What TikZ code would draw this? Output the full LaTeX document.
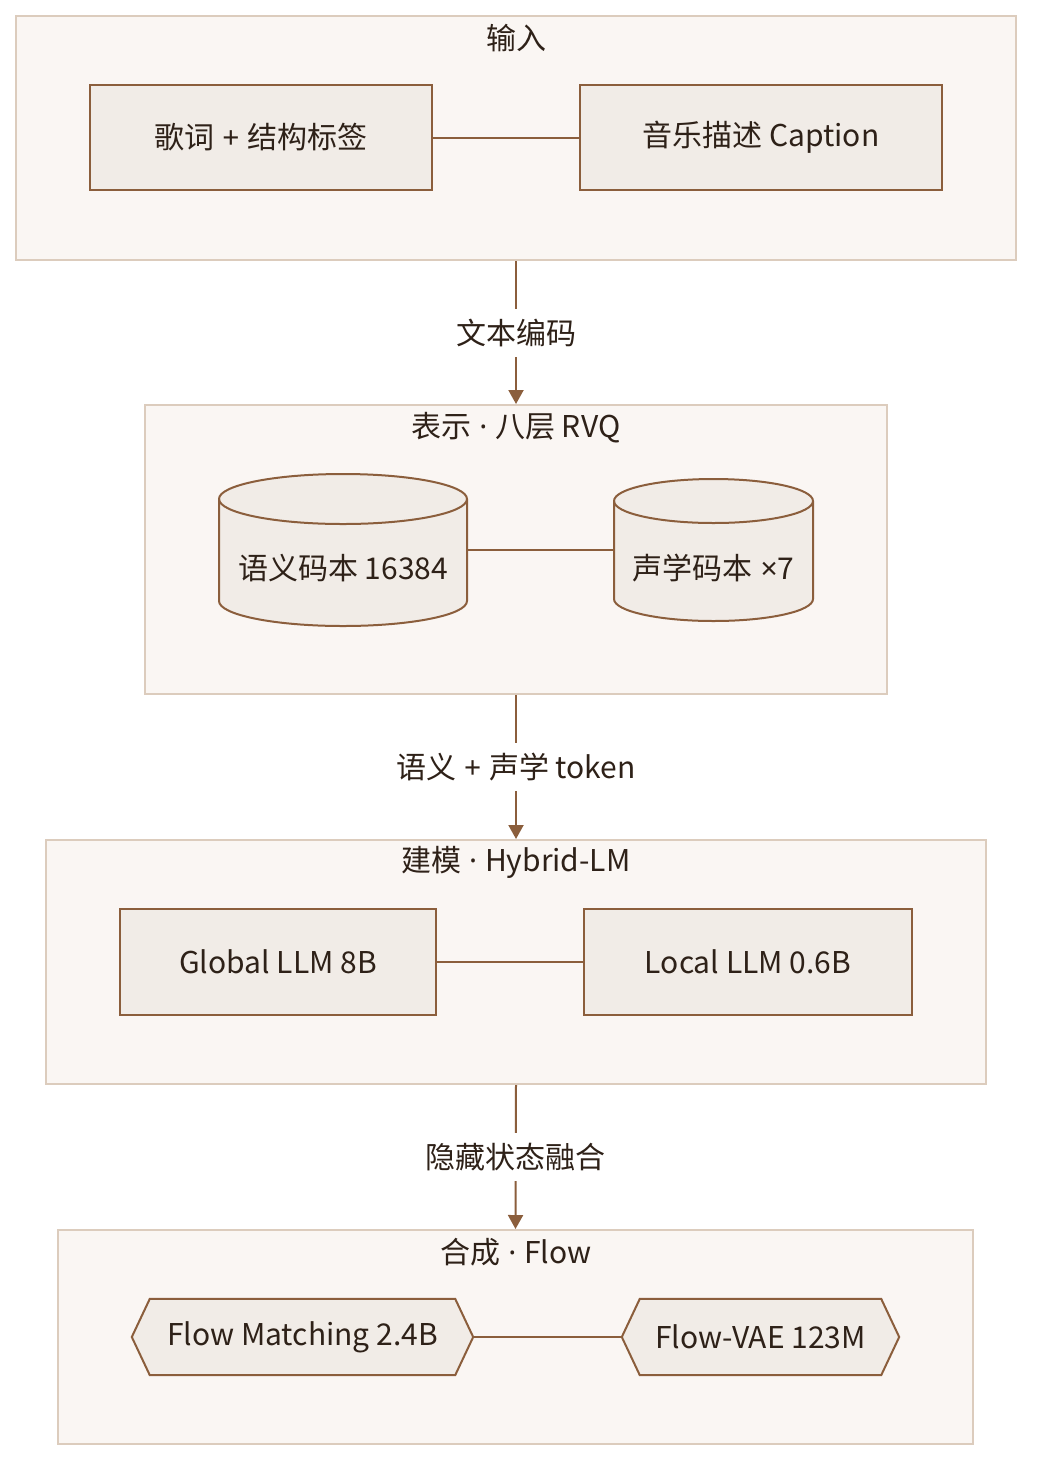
\documentclass[tikz,border=0pt]{standalone}
\usepackage{fontspec}
\setmainfont{Noto Sans CJK SC}
\newfontfamily\pfont{Noto Sans}
\usetikzlibrary{arrows.meta}
\definecolor{clfill}{HTML}{FAF6F3}
\definecolor{cldraw}{HTML}{DCCCBD}
\definecolor{ndfill}{HTML}{F1ECE7}
\definecolor{nddraw}{HTML}{8B5E3C}
\definecolor{txt}{HTML}{2E2118}
\newcommand\dfont{\fontsize{30}{36}\selectfont}
\newcommand\sdot{{\pfont\ ·\ }}
\newcommand\splus{{\pfont\ +\ }}
\tikzset{
  cluster/.style={draw=cldraw, fill=clfill, line width=2pt, inner sep=0pt},
  cltitle/.style={text=txt, font=\dfont, inner sep=0pt},
  box/.style={draw=nddraw, fill=ndfill, line width=2pt, inner sep=0pt, text=txt, font=\dfont},
  ghost/.style={draw=none, inner sep=0pt},
  shapeline/.style={draw=nddraw, fill=ndfill, line width=2pt},
  ntext/.style={text=txt, font=\dfont, inner sep=0pt},
  link/.style={draw=nddraw, line width=2pt},
  edge/.style={draw=nddraw, line width=2pt, -{Triangle[length=14pt,width=15pt]}},
  elabel/.style={fill=white, text=txt, font=\dfont, inner xsep=2pt, minimum height=48pt},
}
\begin{document}
\begin{tikzpicture}[x=1pt,y=1pt]
\useasboundingbox (0,0) rectangle (1048,-1484);
\fill[white] (0,0) rectangle (1048,-1484);

% clusters
\node[cluster, minimum width=1000, minimum height=244] (cl1) at (516,-138) {};
\node[cluster, minimum width=742, minimum height=289] (cl2) at (516,-549.5) {};
\node[cluster, minimum width=940, minimum height=244] (cl3) at (516,-962) {};
\node[cluster, minimum width=915, minimum height=214] (cl4) at (515.5,-1337) {};

\node[cltitle] (t1) at (516,-38) {输入};
\node[cltitle] (t2) at (516,-428) {表示\sdot 八层 RVQ};
\node[cltitle] (t3) at (516,-862) {建模\sdot Hybrid-LM};
\node[cltitle] (t4) at (516,-1252) {合成\sdot Flow};

% input nodes
\node[box, minimum width=342, minimum height=105] (a) at (261,-137.5) {歌词\splus 结构标签};
\node[box, minimum width=362, minimum height=105] (b) at (761,-137.5) {音乐描述 Caption};
\draw[link] (a.east) -- (b.west);

% cylinders
\node[ghost, minimum width=248, minimum height=152] (c1) at (343,-550) {};
\node[ghost, minimum width=199, minimum height=142] (c2) at (713.5,-550) {};
\draw[shapeline] (219,-499) -- (219,-601) arc[start angle=180,end angle=360,x radius=124,y radius=25]
  -- (467,-499) arc[start angle=0,end angle=180,x radius=124,y radius=25] -- cycle;
\draw[shapeline, fill=none] (219,-499) arc[start angle=180,end angle=360,x radius=124,y radius=25];
\draw[shapeline] (614,-501) -- (614,-599) arc[start angle=180,end angle=360,x radius=99.5,y radius=22]
  -- (813,-501) arc[start angle=0,end angle=180,x radius=99.5,y radius=22] -- cycle;
\draw[shapeline, fill=none] (614,-501) arc[start angle=180,end angle=360,x radius=99.5,y radius=22];
\node[ntext] (c1t) at (343,-568) {语义码本 16384};
\node[ntext] (c2t) at (713.5,-568) {声学码本{\pfont\ ×}7};
\draw[link] (c1.east) -- (c2.west);

% LLM nodes
\node[box, minimum width=316, minimum height=106] (g) at (278,-962) {Global LLM 8B};
\node[box, minimum width=328, minimum height=106] (l) at (748,-962) {Local LLM 0.6B};
\draw[link] (g.east) -- (l.west);

% hexagons
\node[ghost, minimum width=341, minimum height=76] (h1) at (302.5,-1337) {};
\node[ghost, minimum width=277, minimum height=76] (h2) at (760.5,-1337) {};
\draw[shapeline] (h1.west) -- ([xshift=18]h1.north west) -- ([xshift=-18]h1.north east) -- (h1.east)
  -- ([xshift=-18]h1.south east) -- ([xshift=18]h1.south west) -- cycle;
\draw[shapeline] (h2.west) -- ([xshift=18]h2.north west) -- ([xshift=-18]h2.north east) -- (h2.east)
  -- ([xshift=-18]h2.south east) -- ([xshift=18]h2.south west) -- cycle;
\node[ntext] (h1t) at (302.5,-1337) {Flow Matching 2.4B};
\node[ntext] (h2t) at (760.5,-1337) {Flow-VAE 123M};
\draw[link] (h1.east) -- (h2.west);

% edges between clusters
\draw[edge] (cl1.south) -- node[elabel] (e1) {文本编码} (cl2.north);
\draw[edge] (cl2.south) -- node[elabel] (e2) {语义\splus 声学 token} (cl3.north);
\draw[edge] (cl3.south) -- node[elabel] (e3) {隐藏状态融合} (cl4.north);
\end{tikzpicture}
\end{document}
